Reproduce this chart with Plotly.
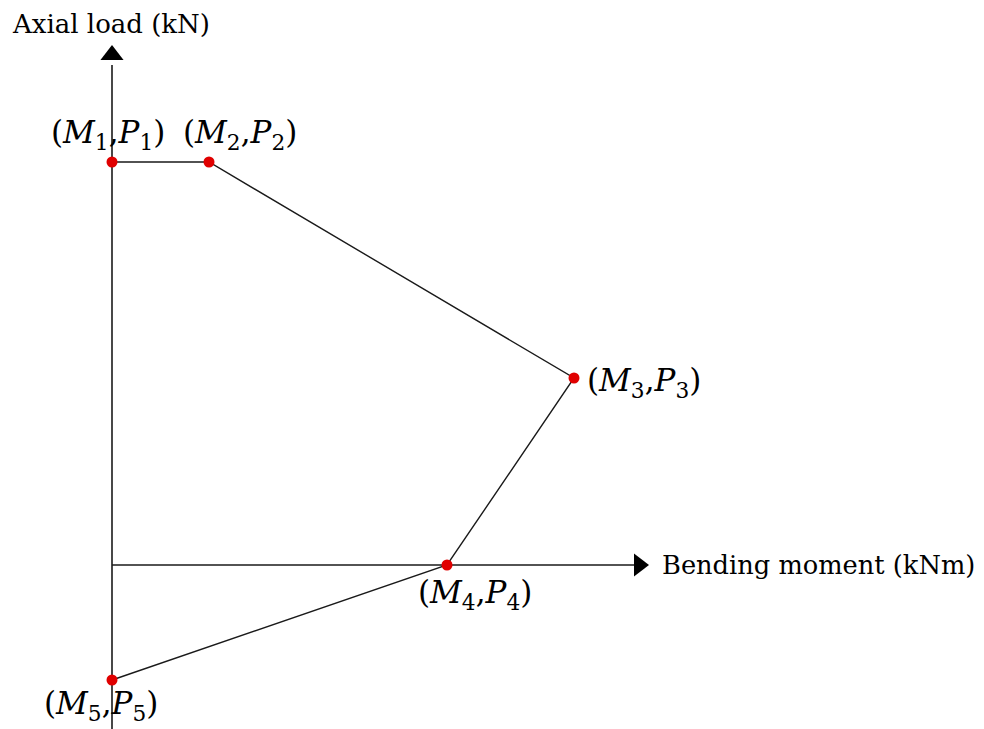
import plotly.graph_objects as go

# Interaction-diagram corner points (bending moment M, axial load P)
moment = [0, 97, 462, 335, 0]
axial = [403, 403, 187, 0, -115]
point_labels = ["(<i>M</i><sub>1</sub>,<i>P</i><sub>1</sub>)",
                "(<i>M</i><sub>2</sub>,<i>P</i><sub>2</sub>)",
                "(<i>M</i><sub>3</sub>,<i>P</i><sub>3</sub>)",
                "(<i>M</i><sub>4</sub>,<i>P</i><sub>4</sub>)",
                "(<i>M</i><sub>5</sub>,<i>P</i><sub>5</sub>)"]
x_title = "Bending moment (kNm)"
y_title = "Axial load (kN)"

W, H = 984, 729
x_range = [-112, W - 112]
y_range = [-164, H - 164]
x_axis_end = 527
y_axis_end = 500

serif = "DejaVu Serif"
ink = "#1a1a1a"

fig = go.Figure()

# Axis lines
fig.add_trace(go.Scatter(x=[0, 0], y=[y_range[0], y_axis_end], mode="lines",
                         line=dict(color=ink, width=1.6), hoverinfo="skip"))
fig.add_trace(go.Scatter(x=[0, x_axis_end], y=[0, 0], mode="lines",
                         line=dict(color=ink, width=1.6), hoverinfo="skip"))
# Arrow heads
fig.add_trace(go.Scatter(x=[0], y=[y_axis_end + 10], mode="markers",
                         marker=dict(symbol="triangle-up", size=20, color="black"),
                         hoverinfo="skip"))
fig.add_trace(go.Scatter(x=[x_axis_end], y=[0], mode="markers",
                         marker=dict(symbol="triangle-right", size=20, color="black"),
                         hoverinfo="skip"))

# Interaction curve
fig.add_trace(go.Scatter(x=moment, y=axial, mode="lines",
                         line=dict(color=ink, width=1.4), hoverinfo="skip"))
fig.add_trace(go.Scatter(x=moment, y=axial, mode="markers",
                         marker=dict(color="#e00000", size=11), hoverinfo="skip"))

# Point labels: (xanchor, yanchor, xshift, yshift)
placements = [
    ("center", "bottom", -4, 6),
    ("center", "bottom", 31, 6),
    ("left", "middle", 12, -4),
    ("center", "top", 28, -8),
    ("center", "middle", -11, -25),
]
for m, p, lab, (xa, ya, xs, ys) in zip(moment, axial, point_labels, placements):
    fig.add_annotation(x=m, y=p, text=lab, showarrow=False, xanchor=xa, yanchor=ya,
                       xshift=xs, yshift=ys, borderpad=0,
                       font=dict(family=serif, size=31, color="black"))

fig.add_annotation(x=x_axis_end + 21, y=0, text=x_title, showarrow=False,
                   xanchor="left", yanchor="middle", yshift=0,
                   font=dict(family=serif, size=25.7, color="black"))
fig.add_annotation(x=-102, y=y_axis_end + 18, text=y_title, showarrow=False,
                   xanchor="left", yanchor="bottom", yshift=6,
                   font=dict(family=serif, size=26, color="black"))

fig.update_layout(
    width=W, height=H,
    margin=dict(l=0, r=0, t=0, b=0),
    paper_bgcolor="white", plot_bgcolor="white",
    showlegend=False,
    xaxis=dict(range=x_range, visible=False, fixedrange=True),
    yaxis=dict(range=y_range, visible=False, fixedrange=True),
)

fig.write_html("out.html")
